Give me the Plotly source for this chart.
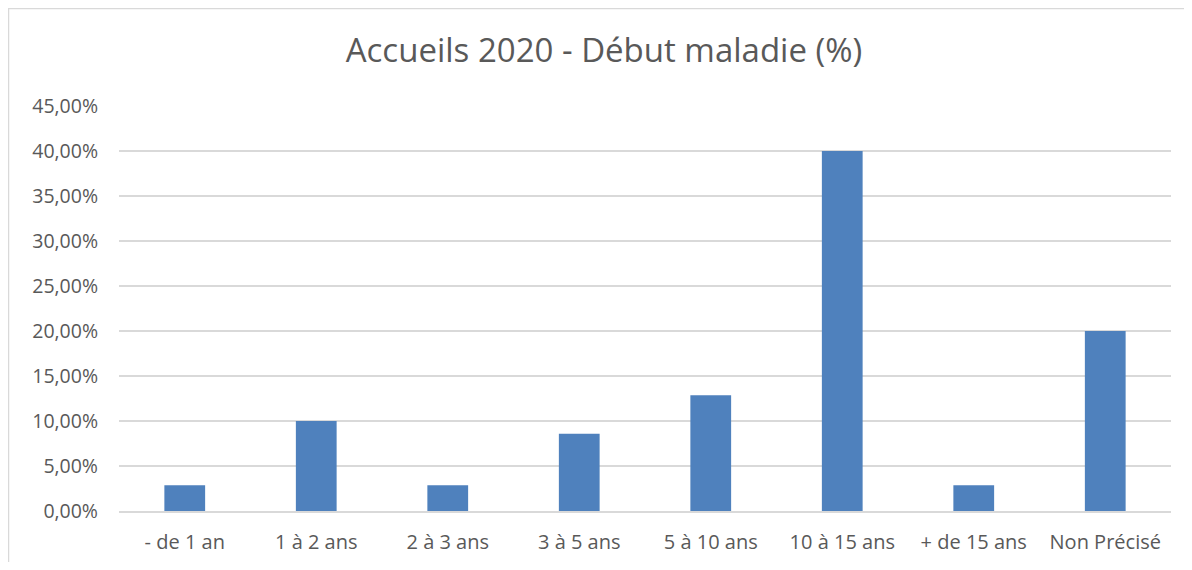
import plotly.graph_objects as go

categories = ["- de 1 an", "1 à 2 ans", "2 à 3 ans", "3 à 5 ans", "5 à 10 ans",
              "10 à 15 ans", "+ de 15 ans", "Non Précisé"]
values = [0.0286, 0.10, 0.0286, 0.0857, 0.1286, 0.40, 0.0286, 0.20]
y_ticks = [0, 0.05, 0.10, 0.15, 0.20, 0.25, 0.30, 0.35, 0.40, 0.45]

# page body has an 8px margin; keep the figure inside the 1192x570 viewport
W, H = 1176, 554
L, R, T, B = 111, 13, 98, 51
pw, ph = W - L - R, H - T - B

fig = go.Figure(go.Bar(
    x=categories, y=values,
    marker=dict(color="#4f81bd", line=dict(width=0)),
    hovertemplate="%{x}: %{y:.2%}<extra></extra>",
))

font_family = "'Open Sans', Lato, sans-serif"

fig.update_layout(
    width=W, height=H,
    margin=dict(l=L, r=R, t=T, b=B, pad=0, autoexpand=False),
    paper_bgcolor="white", plot_bgcolor="white",
    separators=", ",
    bargap=0.69,
    showlegend=False,
    title=dict(text="Accueils 2020 - Début maladie (%)",
               x=596 / W, xref="container", xanchor="center",
               y=1 - 42 / H, yref="container", yanchor="middle",
               automargin=False,
               font=dict(family=font_family, size=33, color="#595959")),
    font=dict(family=font_family, size=20, color="#595959"),
    shapes=[
        dict(type="line", xref="paper", yref="paper",
             x0=-L / pw, x1=1 + R / pw, y0=1 + (T - 0.5) / ph, y1=1 + (T - 0.5) / ph,
             line=dict(color="#d9d9d9", width=1.5)),
        dict(type="line", xref="paper", yref="paper",
             x0=-(L - 0.5) / pw, x1=-(L - 0.5) / pw, y0=-B / ph, y1=1 + T / ph,
             line=dict(color="#d9d9d9", width=1.5)),
    ],
)

fig.update_yaxes(range=[0, 0.45], tickvals=y_ticks, tickformat=".2%",
                 automargin=False,
                 showgrid=True, gridcolor="#d9d9d9", gridwidth=1.5,
                 zeroline=False, showline=False, ticks="", ticklen=0,
                 ticklabelstandoff=20,
                 tickfont=dict(size=19.5, color="#595959"))
fig.update_xaxes(automargin=False,
                 showgrid=False, showline=True, linecolor="#d9d9d9", linewidth=1.5,
                 ticks="", ticklabelstandoff=12,
                 tickfont=dict(size=20, color="#595959"))

fig.write_html("out.html")
